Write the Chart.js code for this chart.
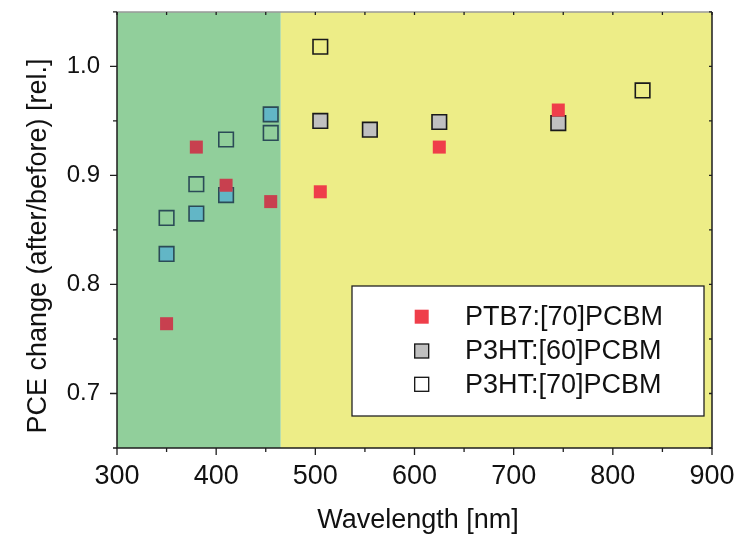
<!DOCTYPE html>
<html>
<head>
<meta charset="utf-8">
<script src="https://cdn.jsdelivr.net/npm/chart.js@4.4.1/dist/chart.umd.min.js"></script>
<style>
  html, body { margin: 0; padding: 0; background: #fff; }
  #wrap { width: 743px; height: 536px; }
</style>
</head>
<body>
<div id="wrap"><canvas id="pceChart"></canvas></div>
<script>
// wavelength [nm] vs relative PCE change
const ptb7Wl    = [350, 380, 410, 455, 505, 625, 745];
const ptb7Pce   = [0.764, 0.926, 0.891, 0.876, 0.885, 0.926, 0.960];
const p3ht60Wl  = [350, 380, 410, 455, 505, 555, 625, 745];
const p3ht60Pce = [0.828, 0.865, 0.882, 0.956, 0.950, 0.942, 0.949, 0.948];
const p3ht70Wl  = [350, 380, 410, 455, 505, 830];
const p3ht70Pce = [0.861, 0.892, 0.933, 0.939, 1.018, 0.978];

const seriesNames = ["PTB7:[70]PCBM", "P3HT:[60]PCBM", "P3HT:[70]PCBM"];

// shaded bands behind the points [from, to] in nm
const blueBand = [300, 465];
const visBand  = [465, 900];

const xTicks      = [300, 400, 500, 600, 700, 800, 900];
const xMinorTicks = [350, 450, 550, 650, 750, 850];
const yTicks      = [0.7, 0.8, 0.9, 1.0];
const yMinorTicks = [0.65, 0.75, 0.85, 0.95, 1.05];

const FONT = "'Liberation Sans', Arial, sans-serif";

function toPoints(xs, ys) {
  return xs.map(function (x, i) { return { x: x, y: ys[i] }; });
}

// points lying in the green band get a tinted look
function inBand(c) {
  return c.raw && c.raw.x < blueBand[1];
}

const overlayPlugin = {
  id: "overlay",
  beforeDatasetsDraw(chart) {
    const { ctx, chartArea: a, scales: { x } } = chart;
    ctx.save();
    let p0 = x.getPixelForValue(visBand[0]), p1 = x.getPixelForValue(visBand[1]);
    ctx.fillStyle = "#EDED87";
    ctx.fillRect(p0, a.top, p1 - p0, a.bottom - a.top);
    p0 = x.getPixelForValue(blueBand[0]); p1 = x.getPixelForValue(blueBand[1]);
    ctx.fillStyle = "#91CF9B";
    ctx.fillRect(p0, a.top, p1 - p0, a.bottom - a.top);
    ctx.restore();
  },
  afterDatasetsDraw(chart) {
    const { ctx, chartArea: a, scales: { x, y } } = chart;
    ctx.save();

    // frame
    ctx.lineWidth = 1.5;
    ctx.strokeStyle = "#9a9a9a";
    ctx.beginPath(); ctx.moveTo(a.left, a.top); ctx.lineTo(a.right, a.top); ctx.stroke();
    ctx.strokeStyle = "#1e1e1e";
    ctx.beginPath();
    ctx.moveTo(a.right, a.top); ctx.lineTo(a.right, a.bottom);
    ctx.lineTo(a.left, a.bottom); ctx.lineTo(a.left, a.top);
    ctx.stroke();

    // tick marks
    ctx.lineWidth = 1.3;
    ctx.beginPath();
    xTicks.forEach(function (v) {
      const px = x.getPixelForValue(v);
      ctx.moveTo(px, a.bottom); ctx.lineTo(px, a.bottom + 7);
      ctx.moveTo(px, a.top); ctx.lineTo(px, a.top + 3);
    });
    xMinorTicks.forEach(function (v) {
      const px = x.getPixelForValue(v);
      ctx.moveTo(px, a.bottom); ctx.lineTo(px, a.bottom + 4);
      ctx.moveTo(px, a.top); ctx.lineTo(px, a.top + 3);
    });
    yTicks.forEach(function (v) {
      const py = y.getPixelForValue(v);
      ctx.moveTo(a.left, py); ctx.lineTo(a.left - 7, py);
      ctx.moveTo(a.right, py); ctx.lineTo(a.right - 3, py);
    });
    yMinorTicks.forEach(function (v) {
      const py = y.getPixelForValue(v);
      ctx.moveTo(a.left, py); ctx.lineTo(a.left - 4, py);
      ctx.moveTo(a.right, py); ctx.lineTo(a.right - 3, py);
    });
    ctx.stroke();

    // legend box
    const lx = 352, ly = 286, lw = 352, lh = 130;
    ctx.fillStyle = "#ffffff";
    ctx.fillRect(lx, ly, lw, lh);
    ctx.lineWidth = 1.3;
    ctx.strokeStyle = "#222";
    ctx.strokeRect(lx, ly, lw, lh);

    const rows = [316.7, 351, 384.3];
    const fills = ["#EF3E4A", "#C0C0C0", "#FFFFFF"];
    ctx.font = "27px " + FONT;
    ctx.textAlign = "left";
    ctx.textBaseline = "middle";
    seriesNames.forEach(function (name, i) {
      const cy = rows[i], cx = 421.7, s = 14;
      ctx.fillStyle = fills[i];
      ctx.fillRect(cx - s / 2, cy - s / 2, s, s);
      if (i > 0) {
        ctx.lineWidth = 1.3;
        ctx.strokeStyle = "#111";
        ctx.strokeRect(cx - s / 2, cy - s / 2, s, s);
      }
      ctx.fillStyle = "#111";
      ctx.fillText(name, 465, cy + 1);
    });

    // axis titles
    ctx.fillStyle = "#111";
    ctx.font = "27px " + FONT;
    ctx.textAlign = "center";
    ctx.textBaseline = "alphabetic";
    ctx.fillText("Wavelength [nm]", 418, 528);
    ctx.translate(46, 246);
    ctx.rotate(-Math.PI / 2);
    ctx.fillText("PCE change (after/before) [rel.]", 0, 0);

    ctx.restore();
  }
};

window.onload = function () {
  const el = document.getElementById("pceChart");

  new Chart(el, {
    type: "scatter",
    data: {
      datasets: [
        {
          label: seriesNames[0],
          data: toPoints(ptb7Wl, ptb7Pce),
          pointStyle: "rect",
          pointRadius: 9.2,
          pointBorderWidth: 0,
          pointBackgroundColor: function (c) { return inBand(c) ? "#C8404F" : "#EF3E4A"; },
          pointBorderColor: "rgba(0,0,0,0)",
          order: 0
        },
        {
          label: seriesNames[1],
          data: toPoints(p3ht60Wl, p3ht60Pce),
          pointStyle: "rect",
          pointRadius: 10.3,
          pointBorderWidth: 1.6,
          pointBackgroundColor: function (c) { return inBand(c) ? "#62B6C6" : "#C0C0C0"; },
          pointBorderColor: function (c) { return inBand(c) ? "#2B4B57" : "#1a1a1a"; },
          order: 2
        },
        {
          label: seriesNames[2],
          data: toPoints(p3ht70Wl, p3ht70Pce),
          pointStyle: "rect",
          pointRadius: 10.3,
          pointBorderWidth: 1.6,
          pointBackgroundColor: "rgba(0,0,0,0)",
          pointBorderColor: function (c) { return inBand(c) ? "#2B4B57" : "#1a1a1a"; },
          order: 1
        }
      ]
    },
    options: {
      responsive: true,
      maintainAspectRatio: false,
      animation: false,
      layout: { padding: { top: 10, right: 31, left: 0, bottom: 0 } },
      plugins: {
        legend: { display: false },
        tooltip: { enabled: false }
      },
      scales: {
        x: {
          type: "linear",
          min: 300,
          max: 900,
          afterFit: function (s) { s.height = 88; s.paddingLeft = 0; s.paddingRight = 0; },
          afterBuildTicks: function (s) { s.ticks = xTicks.map(function (v) { return { value: v }; }); },
          grid: { display: false, drawTicks: false },
          border: { display: false },
          ticks: {
            padding: 12,
            color: "#111",
            font: { family: FONT, size: 27 },
            maxRotation: 0,
            autoSkip: false,
            callback: function (v) { return String(v); }
          }
        },
        y: {
          type: "linear",
          min: 0.65,
          max: 1.05,
          afterFit: function (s) { s.width = 117; s.paddingTop = 0; s.paddingBottom = 0; },
          afterBuildTicks: function (s) { s.ticks = yTicks.map(function (v) { return { value: v }; }); },
          grid: { display: false, drawTicks: false },
          border: { display: false },
          ticks: {
            padding: 17,
            color: "#111",
            font: { family: FONT, size: 24 },
            autoSkip: false,
            callback: function (v) { return Number(v).toFixed(1); }
          }
        }
      }
    },
    plugins: [overlayPlugin]
  });
};
</script>
</body>
</html>
